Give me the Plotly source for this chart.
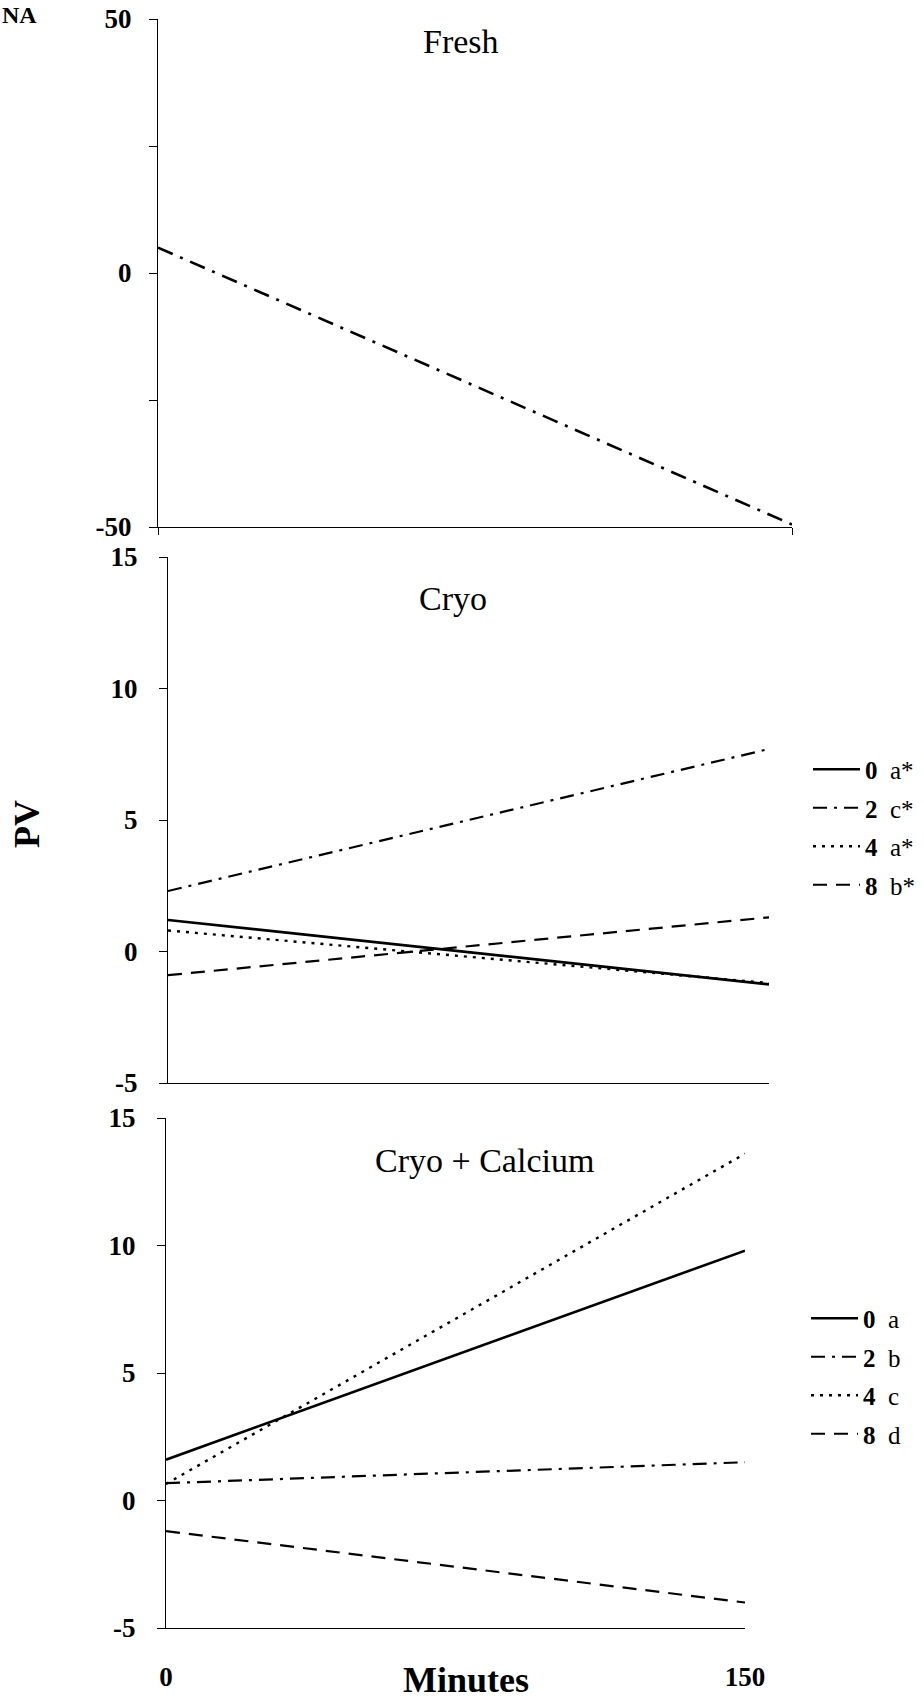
import plotly.graph_objects as go

W, H = 924, 1701

# ---------------- data ----------------
minutes = [0, 150]

fresh_pv = [5.0, -49.5]

series_names = ["0", "2", "4", "8"]
cryo_letters = ["a*", "c*", "a*", "b*"]
cryo_pv = [
    [1.2, -1.25],   # 0
    [2.3, 7.7],     # 2
    [0.8, -1.2],    # 4
    [-0.9, 1.3],    # 8
]

calc_letters = ["a", "b", "c", "d"]
calc_pv = [
    [1.6, 9.8],     # 0
    [0.68, 1.5],    # 2
    [0.65, 13.6],   # 4
    [-1.2, -4.0],   # 8
]

fresh_yticks = [-50, -25, 0, 25, 50]
fresh_yticktext = ["-50", "", "0", "", "50"]
cryo_yticks = [-5, 0, 5, 10, 15]
cryo_yticktext = ["-5", "0", "5", "10", "15"]
x_ticks = [0, 150]
x_ticktext = ["0", "150"]

# ---------------- styles ----------------
FONT = "Liberation Serif"
dash_styles = ["solid", "14px,7px,3px,7px", "3px,6px", "14px,9px"]
line_widths = [2.6, 2.2, 2.4, 2.2]


def px_x(p):
    return p / W


def px_y(p):
    return 1 - p / H


fig = go.Figure()

# Panel 1 : Fresh
fig.add_trace(go.Scatter(
    x=minutes, y=fresh_pv, mode="lines", showlegend=False,
    line=dict(color="black", width=2.6, dash="16px,8px,3px,8px"),
    xaxis="x", yaxis="y", hoverinfo="skip"))

# Panel 2 : Cryo
for i, name in enumerate(series_names):
    fig.add_trace(go.Scatter(
        x=minutes, y=cryo_pv[i], mode="lines",
        name=f"<b>{name}</b>  {cryo_letters[i]}",
        legendgroup=f"c{i}",
        line=dict(color="black", width=line_widths[i], dash=dash_styles[i]),
        xaxis="x2", yaxis="y2", legend="legend", hoverinfo="skip"))

# Panel 3 : Cryo + Calcium
for i, name in enumerate(series_names):
    fig.add_trace(go.Scatter(
        x=minutes, y=calc_pv[i], mode="lines",
        name=f"<b>{name}</b>  {calc_letters[i]}",
        legendgroup=f"k{i}",
        line=dict(color="black", width=line_widths[i], dash=dash_styles[i]),
        xaxis="x3", yaxis="y3", legend="legend2", hoverinfo="skip"))

tickfont = dict(family=FONT, size=27, color="black", weight="bold")

common_y = dict(showgrid=False, zeroline=False, showline=True, linecolor="black",
                linewidth=1, ticks="outside", ticklen=8, tickcolor="black",
                tickfont=tickfont, automargin=False)
common_x = dict(showgrid=False, zeroline=False, showline=True, linecolor="black",
                linewidth=1.2, range=[0, 150], tickfont=tickfont, automargin=False)

legend_common = dict(xanchor="left", yanchor="middle",
                     font=dict(family=FONT, size=25, color="black"),
                     itemwidth=47, bgcolor="rgba(0,0,0,0)", tracegroupgap=3)

fig.update_layout(
    width=W, height=H,
    margin=dict(l=0, r=0, t=0, b=0, autoexpand=False),
    paper_bgcolor="white", plot_bgcolor="white",
    font=dict(family=FONT, color="black"),
    xaxis=dict(common_x, domain=[px_x(158), px_x(792)], anchor="y",
               tickvals=x_ticks, ticks="outside", ticklen=7, tickcolor="black",
               showticklabels=False),
    yaxis=dict(common_y, domain=[px_y(527), px_y(19)], anchor="x",
               range=[-50, 50], tickvals=fresh_yticks, ticktext=fresh_yticktext,
               ticklabelstandoff=12),
    xaxis2=dict(common_x, domain=[px_x(168), px_x(769)], anchor="y2",
                ticks="", showticklabels=False),
    yaxis2=dict(common_y, domain=[px_y(1083), px_y(557)], anchor="x2",
                range=[-5, 15], tickvals=cryo_yticks, ticktext=cryo_yticktext,
                ticklabelstandoff=16),
    xaxis3=dict(common_x, domain=[px_x(166), px_x(745)], anchor="y3",
                tickvals=x_ticks, ticktext=x_ticktext, ticks="",
                ticklabelstandoff=24),
    yaxis3=dict(common_y, domain=[px_y(1628), px_y(1118)], anchor="x3",
                range=[-5, 15], tickvals=cryo_yticks, ticktext=cryo_yticktext,
                ticklabelstandoff=16),
    legend=dict(legend_common, x=px_x(808), y=px_y(827)),
    legend2=dict(legend_common, x=px_x(806), y=px_y(1376)),
)

annotations = [
    dict(text="Fresh", x=px_x(461), y=px_y(41), xref="paper", yref="paper",
         showarrow=False, font=dict(family=FONT, size=34, color="black"),
         xanchor="center", yanchor="middle"),
    dict(text="Cryo", x=px_x(453), y=px_y(598), xref="paper", yref="paper",
         showarrow=False, font=dict(family=FONT, size=34, color="black"),
         xanchor="center", yanchor="middle"),
    dict(text="Cryo + Calcium", x=px_x(485), y=px_y(1160), xref="paper", yref="paper",
         showarrow=False, font=dict(family=FONT, size=34, color="black"),
         xanchor="center", yanchor="middle"),
    dict(text="<b>PV</b>", x=px_x(27), y=px_y(824), xref="paper", yref="paper",
         showarrow=False, textangle=-90, font=dict(family=FONT, size=36, color="black"),
         xanchor="center", yanchor="middle"),
    dict(text="<b>Minutes</b>", x=px_x(466), y=0, xref="paper", yref="paper",
         showarrow=False, font=dict(family=FONT, size=36, color="black"),
         xanchor="center", yanchor="bottom", borderpad=0),
    dict(text="<b>NA</b>", x=px_x(0), y=px_y(0), xref="paper", yref="paper",
         showarrow=False, font=dict(family=FONT, size=24, color="black"),
         xanchor="left", yanchor="top"),
]
fig.update_layout(annotations=annotations)

fig.write_html(
    "out.html",
    config={"displayModeBar": False},
    post_script="document.body.style.margin='0px';document.body.style.overflow='hidden';",
)
